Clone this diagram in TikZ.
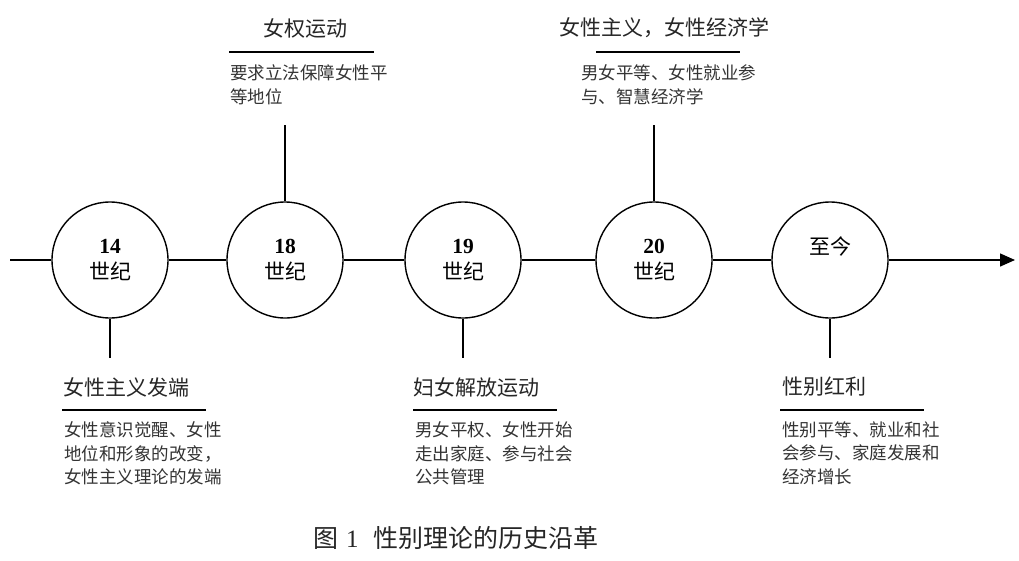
\documentclass[tikz,border=0pt]{standalone}
\usepackage{fontspec}
\setmainfont{Noto Sans CJK SC}
\newfontfamily\serifnum{Liberation Serif}
\usetikzlibrary{arrows.meta}
\begin{document}
\begin{tikzpicture}[x=1pt,y=-1pt,
  era/.style={draw, circle, line width=1.4pt, minimum size=116pt, inner sep=0pt, align=center, font=\fontsize{21}{27}\selectfont},
  yearnum/.style={},
  conn/.style={line width=1.4pt},
  head/.style={inner sep=0pt, text=black!85, font=\fontsize{21}{26}\selectfont},
  desc/.style={inner sep=0pt, align=left, anchor=north west, text=black!80, font=\fontsize{17.5}{23.5}\selectfont},
  rulebar/.style={line width=2pt}
]
\useasboundingbox (0,0) rectangle (1019,560);

% era circles
\node[era] (c14) at (110,260) {{\serifnum\bfseries\fontsize{21.5}{27}\selectfont 14}\\[-1pt]世纪};
\node[era] (c18) at (285,260) {{\serifnum\bfseries\fontsize{21.5}{27}\selectfont 18}\\[-1pt]世纪};
\node[era] (c19) at (463,260) {{\serifnum\bfseries\fontsize{21.5}{27}\selectfont 19}\\[-1pt]世纪};
\node[era] (c20) at (654,260) {{\serifnum\bfseries\fontsize{21.5}{27}\selectfont 20}\\[-1pt]世纪};
\node[era] (cnow) at (830,260) {至今\\[2pt]\mbox{}};

% axis
\coordinate (start) at (10,260);
\coordinate (end) at (1015,260);
\draw[conn] (start) -- (c14);
\draw[conn] (c14) -- (c18);
\draw[conn] (c18) -- (c19);
\draw[conn] (c19) -- (c20);
\draw[conn] (c20) -- (cnow);
\draw[conn, -{Triangle[length=15pt,width=13pt]}] (cnow) -- (end);

% ticks
\coordinate (t18) at (285,125);
\coordinate (t20) at (654,125);
\coordinate (b14) at (110,358);
\coordinate (b19) at (463,358);
\coordinate (bnow) at (830,358);
\draw[conn] (t18) -- (c18.north);
\draw[conn] (t20) -- (c20.north);
\draw[conn] (c14.south) -- (b14);
\draw[conn] (c19.south) -- (b19);
\draw[conn] (cnow.south) -- (bnow);

% 18th century block
\node[head] (h18) at (305,28) {女权运动};
\coordinate (u18a) at (229,52);
\coordinate (u18b) at (374,52);
\draw[rulebar] (u18a) -- (u18b);
\node[desc] (d18) at (230,64.5) {要求立法保障女性平\\等地位};

% 20th century block
\node[head] (h20) at (664,28) {女性主义，女性经济学};
\coordinate (u20a) at (596,52);
\coordinate (u20b) at (740,52);
\draw[rulebar] (u20a) -- (u20b);
\node[desc] (d20) at (581,64.5) {男女平等、女性就业参\\与、智慧经济学};

% 14th century block
\node[head, anchor=west] (h14) at (63,387) {女性主义发端};
\coordinate (u14a) at (62,410);
\coordinate (u14b) at (206,410);
\draw[rulebar] (u14a) -- (u14b);
\node[desc] (d14) at (64,421.5) {女性意识觉醒、女性\\地位和形象的改变，\\女性主义理论的发端};

% 19th century block
\node[head, anchor=west] (h19) at (413,387) {妇女解放运动};
\coordinate (u19a) at (413,410);
\coordinate (u19b) at (557,410);
\draw[rulebar] (u19a) -- (u19b);
\node[desc] (d19) at (415,421.5) {男女平权、女性开始\\走出家庭、参与社会\\公共管理};

% present block
\node[head, anchor=west] (hnow) at (782,387) {性别红利};
\coordinate (unowa) at (780,410);
\coordinate (unowb) at (924,410);
\draw[rulebar] (unowa) -- (unowb);
\node[desc] (dnow) at (782,421.5) {性别平等、就业和社\\会参与、家庭发展和\\经济增长};

% caption
\node[inner sep=0pt, anchor=west, text=black!85, font=\fontsize{25}{28}\selectfont] (cap) at (313,538) {图\hspace{8pt}{\serifnum 1}\hspace{15pt}性别理论的历史沿革};
\end{tikzpicture}
\end{document}
